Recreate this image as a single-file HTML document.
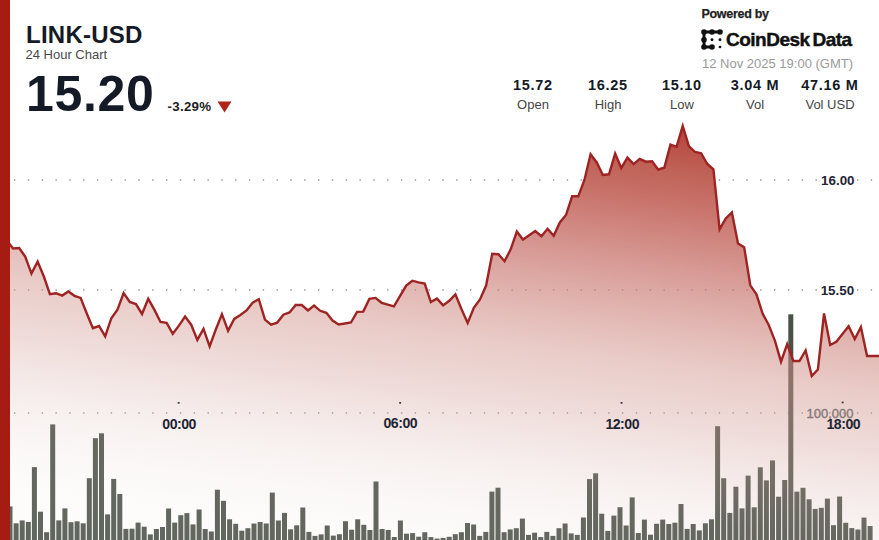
<!DOCTYPE html>
<html><head><meta charset="utf-8">
<style>
html,body{margin:0;padding:0;background:#fff;}
body{width:879px;height:540px;position:relative;overflow:hidden;font-family:"Liberation Sans",sans-serif;}
.abs{position:absolute;white-space:nowrap;}
#redbar{position:absolute;left:0;top:0;width:9.6px;height:540px;background:#a61b12;}
.title{left:26px;top:20.5px;font-size:24px;font-weight:bold;color:#141a26;letter-spacing:0.25px;}
.sub{left:25.5px;top:47px;font-size:13px;color:#484848;}
.price{left:26px;top:64.6px;font-size:50px;font-weight:bold;color:#141a26;letter-spacing:0.7px;}
.chg{left:167.5px;top:98.6px;font-size:13.3px;font-weight:bold;color:#222;letter-spacing:0.3px;}
.stat{position:absolute;width:80px;text-align:center;top:77px;}
.stat .v{font-size:14.5px;font-weight:bold;color:#141a26;line-height:17px;letter-spacing:0.7px;}
.stat .l{font-size:13px;color:#444;line-height:17px;margin-top:2px;}
.pow{left:701.5px;top:7px;font-size:12.5px;font-weight:bold;color:#222;letter-spacing:-0.3px;-webkit-text-stroke:0.25px #222;}
.cdd{left:726px;top:29px;font-size:19px;font-weight:bold;color:#111;letter-spacing:-0.5px;word-spacing:-2px;-webkit-text-stroke:0.45px #111;}
.date{left:702px;top:56px;font-size:13px;color:#9a9a9a;}
svg text{font-family:"Liberation Sans",sans-serif;}
</style></head><body>
<svg width="879" height="540" viewBox="0 0 879 540" style="position:absolute;left:0;top:0">
<defs>
<linearGradient id="g" gradientUnits="userSpaceOnUse" x1="683.0" y1="123.0" x2="616.3" y2="626.7"><stop offset="0.0000" stop-color="rgb(180, 64, 57)" stop-opacity="1.0"/><stop offset="0.0946" stop-color="rgb(192, 98, 87)" stop-opacity="1.0"/><stop offset="0.1551" stop-color="rgb(197, 108, 99)" stop-opacity="0.96"/><stop offset="0.2878" stop-color="rgb(199, 111, 104)" stop-opacity="0.7"/><stop offset="0.4732" stop-color="rgb(210, 148, 140)" stop-opacity="0.49"/><stop offset="0.5902" stop-color="rgb(212, 162, 156)" stop-opacity="0.375"/><stop offset="0.7698" stop-color="rgb(225, 202, 196)" stop-opacity="0.19"/><stop offset="0.8732" stop-color="rgb(238, 228, 224)" stop-opacity="0.15"/><stop offset="1.0000" stop-color="rgb(246, 242, 240)" stop-opacity="0.13"/></linearGradient>
</defs>
<g fill="#8e8e8e"><rect x="14.00" y="179.30" width="1.4" height="1.4"/><rect x="27.82" y="179.30" width="1.4" height="1.4"/><rect x="41.64" y="179.30" width="1.4" height="1.4"/><rect x="55.45" y="179.30" width="1.4" height="1.4"/><rect x="69.27" y="179.30" width="1.4" height="1.4"/><rect x="83.09" y="179.30" width="1.4" height="1.4"/><rect x="96.91" y="179.30" width="1.4" height="1.4"/><rect x="110.73" y="179.30" width="1.4" height="1.4"/><rect x="124.54" y="179.30" width="1.4" height="1.4"/><rect x="138.36" y="179.30" width="1.4" height="1.4"/><rect x="152.18" y="179.30" width="1.4" height="1.4"/><rect x="166.00" y="179.30" width="1.4" height="1.4"/><rect x="179.82" y="179.30" width="1.4" height="1.4"/><rect x="193.63" y="179.30" width="1.4" height="1.4"/><rect x="207.45" y="179.30" width="1.4" height="1.4"/><rect x="221.27" y="179.30" width="1.4" height="1.4"/><rect x="235.09" y="179.30" width="1.4" height="1.4"/><rect x="248.91" y="179.30" width="1.4" height="1.4"/><rect x="262.72" y="179.30" width="1.4" height="1.4"/><rect x="276.54" y="179.30" width="1.4" height="1.4"/><rect x="290.36" y="179.30" width="1.4" height="1.4"/><rect x="304.18" y="179.30" width="1.4" height="1.4"/><rect x="318.00" y="179.30" width="1.4" height="1.4"/><rect x="331.81" y="179.30" width="1.4" height="1.4"/><rect x="345.63" y="179.30" width="1.4" height="1.4"/><rect x="359.45" y="179.30" width="1.4" height="1.4"/><rect x="373.27" y="179.30" width="1.4" height="1.4"/><rect x="387.09" y="179.30" width="1.4" height="1.4"/><rect x="400.90" y="179.30" width="1.4" height="1.4"/><rect x="414.72" y="179.30" width="1.4" height="1.4"/><rect x="428.54" y="179.30" width="1.4" height="1.4"/><rect x="442.36" y="179.30" width="1.4" height="1.4"/><rect x="456.18" y="179.30" width="1.4" height="1.4"/><rect x="469.99" y="179.30" width="1.4" height="1.4"/><rect x="483.81" y="179.30" width="1.4" height="1.4"/><rect x="497.63" y="179.30" width="1.4" height="1.4"/><rect x="511.45" y="179.30" width="1.4" height="1.4"/><rect x="525.27" y="179.30" width="1.4" height="1.4"/><rect x="539.08" y="179.30" width="1.4" height="1.4"/><rect x="552.90" y="179.30" width="1.4" height="1.4"/><rect x="566.72" y="179.30" width="1.4" height="1.4"/><rect x="580.54" y="179.30" width="1.4" height="1.4"/><rect x="594.36" y="179.30" width="1.4" height="1.4"/><rect x="608.17" y="179.30" width="1.4" height="1.4"/><rect x="621.99" y="179.30" width="1.4" height="1.4"/><rect x="635.81" y="179.30" width="1.4" height="1.4"/><rect x="649.63" y="179.30" width="1.4" height="1.4"/><rect x="663.45" y="179.30" width="1.4" height="1.4"/><rect x="677.26" y="179.30" width="1.4" height="1.4"/><rect x="691.08" y="179.30" width="1.4" height="1.4"/><rect x="704.90" y="179.30" width="1.4" height="1.4"/><rect x="718.72" y="179.30" width="1.4" height="1.4"/><rect x="732.54" y="179.30" width="1.4" height="1.4"/><rect x="746.35" y="179.30" width="1.4" height="1.4"/><rect x="760.17" y="179.30" width="1.4" height="1.4"/><rect x="773.99" y="179.30" width="1.4" height="1.4"/><rect x="787.81" y="179.30" width="1.4" height="1.4"/><rect x="801.63" y="179.30" width="1.4" height="1.4"/><rect x="815.44" y="179.30" width="1.4" height="1.4"/><rect x="829.26" y="179.30" width="1.4" height="1.4"/><rect x="843.08" y="179.30" width="1.4" height="1.4"/><rect x="856.90" y="179.30" width="1.4" height="1.4"/><rect x="870.72" y="179.30" width="1.4" height="1.4"/><rect x="14.00" y="289.30" width="1.4" height="1.4"/><rect x="27.82" y="289.30" width="1.4" height="1.4"/><rect x="41.64" y="289.30" width="1.4" height="1.4"/><rect x="55.45" y="289.30" width="1.4" height="1.4"/><rect x="69.27" y="289.30" width="1.4" height="1.4"/><rect x="83.09" y="289.30" width="1.4" height="1.4"/><rect x="96.91" y="289.30" width="1.4" height="1.4"/><rect x="110.73" y="289.30" width="1.4" height="1.4"/><rect x="124.54" y="289.30" width="1.4" height="1.4"/><rect x="138.36" y="289.30" width="1.4" height="1.4"/><rect x="152.18" y="289.30" width="1.4" height="1.4"/><rect x="166.00" y="289.30" width="1.4" height="1.4"/><rect x="179.82" y="289.30" width="1.4" height="1.4"/><rect x="193.63" y="289.30" width="1.4" height="1.4"/><rect x="207.45" y="289.30" width="1.4" height="1.4"/><rect x="221.27" y="289.30" width="1.4" height="1.4"/><rect x="235.09" y="289.30" width="1.4" height="1.4"/><rect x="248.91" y="289.30" width="1.4" height="1.4"/><rect x="262.72" y="289.30" width="1.4" height="1.4"/><rect x="276.54" y="289.30" width="1.4" height="1.4"/><rect x="290.36" y="289.30" width="1.4" height="1.4"/><rect x="304.18" y="289.30" width="1.4" height="1.4"/><rect x="318.00" y="289.30" width="1.4" height="1.4"/><rect x="331.81" y="289.30" width="1.4" height="1.4"/><rect x="345.63" y="289.30" width="1.4" height="1.4"/><rect x="359.45" y="289.30" width="1.4" height="1.4"/><rect x="373.27" y="289.30" width="1.4" height="1.4"/><rect x="387.09" y="289.30" width="1.4" height="1.4"/><rect x="400.90" y="289.30" width="1.4" height="1.4"/><rect x="414.72" y="289.30" width="1.4" height="1.4"/><rect x="428.54" y="289.30" width="1.4" height="1.4"/><rect x="442.36" y="289.30" width="1.4" height="1.4"/><rect x="456.18" y="289.30" width="1.4" height="1.4"/><rect x="469.99" y="289.30" width="1.4" height="1.4"/><rect x="483.81" y="289.30" width="1.4" height="1.4"/><rect x="497.63" y="289.30" width="1.4" height="1.4"/><rect x="511.45" y="289.30" width="1.4" height="1.4"/><rect x="525.27" y="289.30" width="1.4" height="1.4"/><rect x="539.08" y="289.30" width="1.4" height="1.4"/><rect x="552.90" y="289.30" width="1.4" height="1.4"/><rect x="566.72" y="289.30" width="1.4" height="1.4"/><rect x="580.54" y="289.30" width="1.4" height="1.4"/><rect x="594.36" y="289.30" width="1.4" height="1.4"/><rect x="608.17" y="289.30" width="1.4" height="1.4"/><rect x="621.99" y="289.30" width="1.4" height="1.4"/><rect x="635.81" y="289.30" width="1.4" height="1.4"/><rect x="649.63" y="289.30" width="1.4" height="1.4"/><rect x="663.45" y="289.30" width="1.4" height="1.4"/><rect x="677.26" y="289.30" width="1.4" height="1.4"/><rect x="691.08" y="289.30" width="1.4" height="1.4"/><rect x="704.90" y="289.30" width="1.4" height="1.4"/><rect x="718.72" y="289.30" width="1.4" height="1.4"/><rect x="732.54" y="289.30" width="1.4" height="1.4"/><rect x="746.35" y="289.30" width="1.4" height="1.4"/><rect x="760.17" y="289.30" width="1.4" height="1.4"/><rect x="773.99" y="289.30" width="1.4" height="1.4"/><rect x="787.81" y="289.30" width="1.4" height="1.4"/><rect x="801.63" y="289.30" width="1.4" height="1.4"/><rect x="815.44" y="289.30" width="1.4" height="1.4"/><rect x="829.26" y="289.30" width="1.4" height="1.4"/><rect x="843.08" y="289.30" width="1.4" height="1.4"/><rect x="856.90" y="289.30" width="1.4" height="1.4"/><rect x="870.72" y="289.30" width="1.4" height="1.4"/><rect x="14.00" y="412.30" width="1.4" height="1.4"/><rect x="27.82" y="412.30" width="1.4" height="1.4"/><rect x="41.64" y="412.30" width="1.4" height="1.4"/><rect x="55.45" y="412.30" width="1.4" height="1.4"/><rect x="69.27" y="412.30" width="1.4" height="1.4"/><rect x="83.09" y="412.30" width="1.4" height="1.4"/><rect x="96.91" y="412.30" width="1.4" height="1.4"/><rect x="110.73" y="412.30" width="1.4" height="1.4"/><rect x="124.54" y="412.30" width="1.4" height="1.4"/><rect x="138.36" y="412.30" width="1.4" height="1.4"/><rect x="152.18" y="412.30" width="1.4" height="1.4"/><rect x="166.00" y="412.30" width="1.4" height="1.4"/><rect x="179.82" y="412.30" width="1.4" height="1.4"/><rect x="193.63" y="412.30" width="1.4" height="1.4"/><rect x="207.45" y="412.30" width="1.4" height="1.4"/><rect x="221.27" y="412.30" width="1.4" height="1.4"/><rect x="235.09" y="412.30" width="1.4" height="1.4"/><rect x="248.91" y="412.30" width="1.4" height="1.4"/><rect x="262.72" y="412.30" width="1.4" height="1.4"/><rect x="276.54" y="412.30" width="1.4" height="1.4"/><rect x="290.36" y="412.30" width="1.4" height="1.4"/><rect x="304.18" y="412.30" width="1.4" height="1.4"/><rect x="318.00" y="412.30" width="1.4" height="1.4"/><rect x="331.81" y="412.30" width="1.4" height="1.4"/><rect x="345.63" y="412.30" width="1.4" height="1.4"/><rect x="359.45" y="412.30" width="1.4" height="1.4"/><rect x="373.27" y="412.30" width="1.4" height="1.4"/><rect x="387.09" y="412.30" width="1.4" height="1.4"/><rect x="400.90" y="412.30" width="1.4" height="1.4"/><rect x="414.72" y="412.30" width="1.4" height="1.4"/><rect x="428.54" y="412.30" width="1.4" height="1.4"/><rect x="442.36" y="412.30" width="1.4" height="1.4"/><rect x="456.18" y="412.30" width="1.4" height="1.4"/><rect x="469.99" y="412.30" width="1.4" height="1.4"/><rect x="483.81" y="412.30" width="1.4" height="1.4"/><rect x="497.63" y="412.30" width="1.4" height="1.4"/><rect x="511.45" y="412.30" width="1.4" height="1.4"/><rect x="525.27" y="412.30" width="1.4" height="1.4"/><rect x="539.08" y="412.30" width="1.4" height="1.4"/><rect x="552.90" y="412.30" width="1.4" height="1.4"/><rect x="566.72" y="412.30" width="1.4" height="1.4"/><rect x="580.54" y="412.30" width="1.4" height="1.4"/><rect x="594.36" y="412.30" width="1.4" height="1.4"/><rect x="608.17" y="412.30" width="1.4" height="1.4"/><rect x="621.99" y="412.30" width="1.4" height="1.4"/><rect x="635.81" y="412.30" width="1.4" height="1.4"/><rect x="649.63" y="412.30" width="1.4" height="1.4"/><rect x="663.45" y="412.30" width="1.4" height="1.4"/><rect x="677.26" y="412.30" width="1.4" height="1.4"/><rect x="691.08" y="412.30" width="1.4" height="1.4"/><rect x="704.90" y="412.30" width="1.4" height="1.4"/><rect x="718.72" y="412.30" width="1.4" height="1.4"/><rect x="732.54" y="412.30" width="1.4" height="1.4"/><rect x="746.35" y="412.30" width="1.4" height="1.4"/><rect x="760.17" y="412.30" width="1.4" height="1.4"/><rect x="773.99" y="412.30" width="1.4" height="1.4"/><rect x="787.81" y="412.30" width="1.4" height="1.4"/><rect x="801.63" y="412.30" width="1.4" height="1.4"/><rect x="815.44" y="412.30" width="1.4" height="1.4"/><rect x="829.26" y="412.30" width="1.4" height="1.4"/><rect x="843.08" y="412.30" width="1.4" height="1.4"/><rect x="856.90" y="412.30" width="1.4" height="1.4"/><rect x="870.72" y="412.30" width="1.4" height="1.4"/></g>
<g fill="#4a5148"><rect x="7.50" y="506.4" width="5.0" height="33.6"/>
<rect x="13.60" y="523.3" width="5.0" height="16.7"/>
<rect x="19.70" y="520.4" width="5.0" height="19.6"/>
<rect x="25.80" y="521.9" width="5.0" height="18.1"/>
<rect x="31.90" y="467.1" width="5.0" height="72.9"/>
<rect x="38.00" y="511.7" width="5.0" height="28.3"/>
<rect x="44.10" y="532.2" width="5.0" height="7.8"/>
<rect x="50.20" y="424.4" width="5.0" height="115.6"/>
<rect x="56.30" y="520.4" width="5.0" height="19.6"/>
<rect x="62.40" y="508.4" width="5.0" height="31.6"/>
<rect x="68.50" y="522.2" width="5.0" height="17.8"/>
<rect x="74.60" y="521.3" width="5.0" height="18.7"/>
<rect x="80.70" y="523.3" width="5.0" height="16.7"/>
<rect x="86.80" y="478.2" width="5.0" height="61.8"/>
<rect x="92.90" y="438.2" width="5.0" height="101.8"/>
<rect x="99.00" y="433.3" width="5.0" height="106.7"/>
<rect x="105.10" y="514.4" width="5.0" height="25.6"/>
<rect x="111.20" y="478.9" width="5.0" height="61.1"/>
<rect x="117.30" y="494.0" width="5.0" height="46.0"/>
<rect x="123.40" y="528.9" width="5.0" height="11.1"/>
<rect x="129.50" y="528.7" width="5.0" height="11.3"/>
<rect x="135.60" y="522.6" width="5.0" height="17.4"/>
<rect x="141.70" y="526.7" width="5.0" height="13.3"/>
<rect x="147.80" y="534.4" width="5.0" height="5.6"/>
<rect x="153.90" y="529.0" width="5.0" height="11.0"/>
<rect x="160.00" y="527.0" width="5.0" height="13.0"/>
<rect x="166.10" y="508.5" width="5.0" height="31.5"/>
<rect x="172.20" y="522.6" width="5.0" height="17.4"/>
<rect x="178.30" y="515.2" width="5.0" height="24.8"/>
<rect x="184.40" y="513.1" width="5.0" height="26.9"/>
<rect x="190.50" y="524.4" width="5.0" height="15.6"/>
<rect x="196.60" y="509.5" width="5.0" height="30.5"/>
<rect x="202.70" y="529.0" width="5.0" height="11.0"/>
<rect x="208.80" y="531.5" width="5.0" height="8.5"/>
<rect x="214.90" y="489.7" width="5.0" height="50.3"/>
<rect x="221.00" y="500.8" width="5.0" height="39.2"/>
<rect x="227.10" y="519.3" width="5.0" height="20.7"/>
<rect x="233.20" y="523.8" width="5.0" height="16.2"/>
<rect x="239.30" y="530.7" width="5.0" height="9.3"/>
<rect x="245.40" y="528.2" width="5.0" height="11.8"/>
<rect x="251.50" y="523.5" width="5.0" height="16.5"/>
<rect x="257.60" y="522.0" width="5.0" height="18.0"/>
<rect x="263.70" y="523.5" width="5.0" height="16.5"/>
<rect x="269.80" y="492.6" width="5.0" height="47.4"/>
<rect x="275.90" y="520.5" width="5.0" height="19.5"/>
<rect x="282.00" y="512.9" width="5.0" height="27.1"/>
<rect x="288.10" y="529.3" width="5.0" height="10.7"/>
<rect x="294.20" y="525.3" width="5.0" height="14.7"/>
<rect x="300.30" y="507.5" width="5.0" height="32.5"/>
<rect x="306.40" y="531.9" width="5.0" height="8.1"/>
<rect x="312.50" y="535.9" width="5.0" height="4.1"/>
<rect x="318.60" y="534.4" width="5.0" height="5.6"/>
<rect x="324.70" y="525.5" width="5.0" height="14.5"/>
<rect x="330.80" y="535.6" width="5.0" height="4.4"/>
<rect x="336.90" y="534.2" width="5.0" height="5.8"/>
<rect x="343.00" y="521.2" width="5.0" height="18.8"/>
<rect x="349.10" y="529.7" width="5.0" height="10.3"/>
<rect x="355.20" y="519.3" width="5.0" height="20.7"/>
<rect x="361.30" y="524.8" width="5.0" height="15.2"/>
<rect x="367.40" y="530.0" width="5.0" height="10.0"/>
<rect x="373.50" y="481.5" width="5.0" height="58.5"/>
<rect x="379.60" y="529.0" width="5.0" height="11.0"/>
<rect x="385.70" y="530.0" width="5.0" height="10.0"/>
<rect x="391.80" y="537.0" width="5.0" height="3.0"/>
<rect x="397.90" y="520.5" width="5.0" height="19.5"/>
<rect x="404.00" y="533.7" width="5.0" height="6.3"/>
<rect x="410.10" y="533.1" width="5.0" height="6.9"/>
<rect x="416.20" y="536.7" width="5.0" height="3.3"/>
<rect x="422.30" y="532.2" width="5.0" height="7.8"/>
<rect x="428.40" y="537.1" width="5.0" height="2.9"/>
<rect x="434.50" y="538.6" width="5.0" height="1.4"/>
<rect x="440.60" y="537.9" width="5.0" height="2.1"/>
<rect x="446.70" y="536.8" width="5.0" height="3.2"/>
<rect x="452.80" y="534.2" width="5.0" height="5.8"/>
<rect x="458.90" y="532.2" width="5.0" height="7.8"/>
<rect x="465.00" y="523.0" width="5.0" height="17.0"/>
<rect x="471.10" y="524.5" width="5.0" height="15.5"/>
<rect x="477.20" y="535.9" width="5.0" height="4.1"/>
<rect x="483.30" y="531.9" width="5.0" height="8.1"/>
<rect x="489.40" y="491.6" width="5.0" height="48.4"/>
<rect x="495.50" y="487.7" width="5.0" height="52.3"/>
<rect x="501.60" y="532.2" width="5.0" height="7.8"/>
<rect x="507.70" y="529.4" width="5.0" height="10.6"/>
<rect x="513.80" y="528.2" width="5.0" height="11.8"/>
<rect x="519.90" y="518.6" width="5.0" height="21.4"/>
<rect x="526.00" y="534.9" width="5.0" height="5.1"/>
<rect x="532.10" y="532.7" width="5.0" height="7.3"/>
<rect x="538.20" y="537.1" width="5.0" height="2.9"/>
<rect x="544.30" y="531.9" width="5.0" height="8.1"/>
<rect x="550.40" y="535.9" width="5.0" height="4.1"/>
<rect x="556.50" y="528.2" width="5.0" height="11.8"/>
<rect x="562.60" y="523.5" width="5.0" height="16.5"/>
<rect x="568.70" y="533.4" width="5.0" height="6.6"/>
<rect x="574.80" y="534.9" width="5.0" height="5.1"/>
<rect x="580.90" y="517.5" width="5.0" height="22.5"/>
<rect x="587.00" y="479.1" width="5.0" height="60.9"/>
<rect x="593.10" y="473.3" width="5.0" height="66.7"/>
<rect x="599.20" y="513.7" width="5.0" height="26.3"/>
<rect x="605.30" y="530.9" width="5.0" height="9.1"/>
<rect x="611.40" y="515.6" width="5.0" height="24.4"/>
<rect x="617.50" y="507.2" width="5.0" height="32.8"/>
<rect x="623.60" y="525.5" width="5.0" height="14.5"/>
<rect x="629.70" y="497.4" width="5.0" height="42.6"/>
<rect x="635.80" y="533.0" width="5.0" height="7.0"/>
<rect x="641.90" y="519.6" width="5.0" height="20.4"/>
<rect x="648.00" y="534.7" width="5.0" height="5.3"/>
<rect x="654.10" y="523.8" width="5.0" height="16.2"/>
<rect x="660.20" y="519.6" width="5.0" height="20.4"/>
<rect x="666.30" y="524.0" width="5.0" height="16.0"/>
<rect x="672.40" y="522.7" width="5.0" height="17.3"/>
<rect x="678.50" y="504.0" width="5.0" height="36.0"/>
<rect x="684.60" y="528.9" width="5.0" height="11.1"/>
<rect x="690.70" y="524.0" width="5.0" height="16.0"/>
<rect x="696.80" y="530.4" width="5.0" height="9.6"/>
<rect x="702.90" y="523.3" width="5.0" height="16.7"/>
<rect x="709.00" y="519.3" width="5.0" height="20.7"/>
<rect x="715.10" y="426.2" width="5.0" height="113.8"/>
<rect x="721.20" y="478.2" width="5.0" height="61.8"/>
<rect x="727.30" y="512.9" width="5.0" height="27.1"/>
<rect x="733.40" y="486.7" width="5.0" height="53.3"/>
<rect x="739.50" y="508.4" width="5.0" height="31.6"/>
<rect x="745.60" y="475.6" width="5.0" height="64.4"/>
<rect x="751.70" y="507.3" width="5.0" height="32.7"/>
<rect x="757.80" y="467.3" width="5.0" height="72.7"/>
<rect x="763.90" y="480.4" width="5.0" height="59.6"/>
<rect x="770.00" y="460.4" width="5.0" height="79.6"/>
<rect x="776.10" y="496.7" width="5.0" height="43.3"/>
<rect x="782.20" y="480.0" width="5.0" height="60.0"/>
<rect x="788.30" y="314.3" width="5.0" height="225.7"/>
<rect x="794.40" y="491.6" width="5.0" height="48.4"/>
<rect x="800.50" y="487.8" width="5.0" height="52.2"/>
<rect x="806.60" y="499.3" width="5.0" height="40.7"/>
<rect x="812.70" y="508.9" width="5.0" height="31.1"/>
<rect x="818.80" y="507.8" width="5.0" height="32.2"/>
<rect x="824.90" y="498.6" width="5.0" height="41.4"/>
<rect x="831.00" y="525.2" width="5.0" height="14.8"/>
<rect x="837.10" y="496.5" width="5.0" height="43.5"/>
<rect x="843.20" y="522.8" width="5.0" height="17.2"/>
<rect x="849.30" y="528.1" width="5.0" height="11.9"/>
<rect x="855.40" y="529.5" width="5.0" height="10.5"/>
<rect x="861.50" y="517.6" width="5.0" height="22.4"/>
<rect x="867.60" y="526.0" width="5.0" height="14.0"/></g>
<path d="M-5.40,241.60 L0.74,241.00 L6.89,240.50 L13.03,248.40 L19.18,248.10 L25.32,256.80 L31.46,273.60 L37.61,261.60 L43.75,276.30 L49.90,294.20 L56.04,293.20 L62.18,295.60 L68.33,291.40 L74.47,295.80 L80.62,297.90 L86.76,313.50 L92.90,328.20 L99.05,326.00 L105.19,336.40 L111.34,318.20 L117.48,309.60 L123.62,293.00 L129.77,302.00 L135.91,304.00 L142.06,314.00 L148.20,298.80 L154.34,309.60 L160.49,322.00 L166.63,322.80 L172.78,333.80 L178.92,325.60 L185.06,316.60 L191.21,324.70 L197.35,339.90 L203.50,328.90 L209.64,346.40 L215.78,329.50 L221.93,314.20 L228.07,330.70 L234.22,318.90 L240.36,315.00 L246.50,310.50 L252.65,302.70 L258.79,299.20 L264.94,319.60 L271.08,324.60 L277.22,322.60 L283.37,314.70 L289.51,312.40 L295.66,305.00 L301.80,305.00 L307.94,310.40 L314.09,305.60 L320.23,310.80 L326.38,312.80 L332.52,320.60 L338.66,324.40 L344.81,323.50 L350.95,322.50 L357.10,311.90 L363.24,311.60 L369.38,298.90 L375.53,297.90 L381.67,302.80 L387.82,304.70 L393.96,306.40 L400.10,295.80 L406.25,285.60 L412.39,280.70 L418.54,282.30 L424.68,283.60 L430.82,302.10 L436.97,298.60 L443.11,305.40 L449.26,300.80 L455.40,294.40 L461.54,309.30 L467.69,323.00 L473.83,307.80 L479.98,299.40 L486.12,285.60 L492.26,253.70 L498.41,254.20 L504.55,261.20 L510.70,249.30 L516.84,231.60 L522.98,239.50 L529.13,235.30 L535.27,231.00 L541.42,236.20 L547.56,228.80 L553.70,235.80 L559.85,222.50 L565.99,215.00 L572.14,196.30 L578.28,196.30 L584.42,180.00 L590.57,154.20 L596.71,162.50 L602.86,175.00 L609.00,174.30 L615.14,153.50 L621.29,168.00 L627.43,157.60 L633.58,164.10 L639.72,158.90 L645.86,161.70 L652.01,161.20 L658.15,169.50 L664.30,167.70 L670.44,144.60 L676.58,146.80 L682.73,126.00 L688.87,146.10 L695.02,152.00 L701.16,153.20 L707.30,164.00 L713.45,169.40 L719.59,229.30 L725.74,218.50 L731.88,212.50 L738.02,243.40 L744.17,247.20 L750.31,285.30 L756.46,294.40 L762.60,313.50 L768.74,325.00 L774.89,340.60 L781.03,361.70 L787.18,344.00 L793.32,361.00 L799.46,361.00 L805.61,350.50 L811.75,376.00 L817.90,369.50 L824.04,313.50 L830.18,345.00 L836.33,341.70 L842.47,334.00 L848.62,326.30 L854.76,339.00 L860.90,327.00 L867.05,356.00 L873.19,356.00 L879.34,356.00 L879.34,540 L-5.40,540 Z" fill="url(#g)"/>
<path d="M-5.40,241.60 L0.74,241.00 L6.89,240.50 L13.03,248.40 L19.18,248.10 L25.32,256.80 L31.46,273.60 L37.61,261.60 L43.75,276.30 L49.90,294.20 L56.04,293.20 L62.18,295.60 L68.33,291.40 L74.47,295.80 L80.62,297.90 L86.76,313.50 L92.90,328.20 L99.05,326.00 L105.19,336.40 L111.34,318.20 L117.48,309.60 L123.62,293.00 L129.77,302.00 L135.91,304.00 L142.06,314.00 L148.20,298.80 L154.34,309.60 L160.49,322.00 L166.63,322.80 L172.78,333.80 L178.92,325.60 L185.06,316.60 L191.21,324.70 L197.35,339.90 L203.50,328.90 L209.64,346.40 L215.78,329.50 L221.93,314.20 L228.07,330.70 L234.22,318.90 L240.36,315.00 L246.50,310.50 L252.65,302.70 L258.79,299.20 L264.94,319.60 L271.08,324.60 L277.22,322.60 L283.37,314.70 L289.51,312.40 L295.66,305.00 L301.80,305.00 L307.94,310.40 L314.09,305.60 L320.23,310.80 L326.38,312.80 L332.52,320.60 L338.66,324.40 L344.81,323.50 L350.95,322.50 L357.10,311.90 L363.24,311.60 L369.38,298.90 L375.53,297.90 L381.67,302.80 L387.82,304.70 L393.96,306.40 L400.10,295.80 L406.25,285.60 L412.39,280.70 L418.54,282.30 L424.68,283.60 L430.82,302.10 L436.97,298.60 L443.11,305.40 L449.26,300.80 L455.40,294.40 L461.54,309.30 L467.69,323.00 L473.83,307.80 L479.98,299.40 L486.12,285.60 L492.26,253.70 L498.41,254.20 L504.55,261.20 L510.70,249.30 L516.84,231.60 L522.98,239.50 L529.13,235.30 L535.27,231.00 L541.42,236.20 L547.56,228.80 L553.70,235.80 L559.85,222.50 L565.99,215.00 L572.14,196.30 L578.28,196.30 L584.42,180.00 L590.57,154.20 L596.71,162.50 L602.86,175.00 L609.00,174.30 L615.14,153.50 L621.29,168.00 L627.43,157.60 L633.58,164.10 L639.72,158.90 L645.86,161.70 L652.01,161.20 L658.15,169.50 L664.30,167.70 L670.44,144.60 L676.58,146.80 L682.73,126.00 L688.87,146.10 L695.02,152.00 L701.16,153.20 L707.30,164.00 L713.45,169.40 L719.59,229.30 L725.74,218.50 L731.88,212.50 L738.02,243.40 L744.17,247.20 L750.31,285.30 L756.46,294.40 L762.60,313.50 L768.74,325.00 L774.89,340.60 L781.03,361.70 L787.18,344.00 L793.32,361.00 L799.46,361.00 L805.61,350.50 L811.75,376.00 L817.90,369.50 L824.04,313.50 L830.18,345.00 L836.33,341.70 L842.47,334.00 L848.62,326.30 L854.76,339.00 L860.90,327.00 L867.05,356.00 L873.19,356.00 L879.34,356.00" fill="none" stroke="#9e2424" stroke-width="2.4" stroke-linejoin="miter"/>
<g font-weight="bold" font-size="13.4" fill="#1e2533" text-anchor="middle">
<rect x="817.5" y="172" width="39" height="16" fill="#fff"/>
<text x="837.8" y="184.8">16.00</text>
<rect x="817.5" y="282" width="39" height="16" fill="#fff"/>
<text x="837.4" y="294.8">15.50</text>
</g>
<text x="830" y="418" font-size="13" fill="#857878" stroke="#857878" stroke-width="0.35" text-anchor="middle">100,000</text>
<g fill="#3c3540">
<rect x="177.7" y="402" width="1.9" height="1.7"/>
<rect x="399.2" y="402" width="1.9" height="1.7"/>
<rect x="620.6" y="402" width="1.9" height="1.7"/>
<rect x="841.7" y="401.6" width="1.9" height="1.7"/>
</g>
<g font-weight="bold" font-size="14.1" fill="#1e2533" text-anchor="middle" letter-spacing="-0.5">
<text x="179.1" y="428.6">00:00</text>
<text x="400.3" y="428.4">06:00</text>
<text x="622.2" y="428.6">12:00</text>
<text x="843.3" y="428.5">18:00</text>
</g>
</svg>
<div id="redbar"></div>
<div class="abs title">LINK-USD</div>
<div class="abs sub">24 Hour Chart</div>
<div class="abs price">15.20</div>
<div class="abs chg">-3.29%</div>
<svg class="abs" style="left:217px;top:101px" width="15" height="12"><polygon points="0.5,0.5 14.5,0.5 7.5,11.5" fill="#b0231b"/></svg>
<div class="stat" style="left:493px"><div class="v">15.72</div><div class="l">Open</div></div>
<div class="stat" style="left:568px"><div class="v">16.25</div><div class="l">High</div></div>
<div class="stat" style="left:642px"><div class="v">15.10</div><div class="l">Low</div></div>
<div class="stat" style="left:715px"><div class="v">3.04 M</div><div class="l">Vol</div></div>
<div class="stat" style="left:790px"><div class="v">47.16 M</div><div class="l">Vol USD</div></div>
<div class="abs pow">Powered by</div>
<svg class="abs" style="left:701px;top:29px" width="22" height="22" viewBox="0 0 22 22">
<g stroke="#111" stroke-width="2.9" stroke-linecap="round" fill="none"><path d="M3,3 L19,3 M3,3 L3,18 L11,18"/></g>
<g fill="#111"><circle cx="3" cy="3" r="2.8"/><circle cx="11" cy="3" r="2.8"/><circle cx="19" cy="3" r="2.8"/><circle cx="3" cy="10.7" r="2.8"/><circle cx="3" cy="18" r="2.8"/><circle cx="11" cy="18" r="2.8"/>
<circle cx="11" cy="10.7" r="1.45"/><circle cx="19" cy="10.7" r="1.45"/><circle cx="19" cy="18" r="1.35"/></g>
</svg>
<div class="abs cdd">CoinDesk Data</div>
<div class="abs date">12 Nov 2025 19:00 (GMT)</div>
</body></html>
